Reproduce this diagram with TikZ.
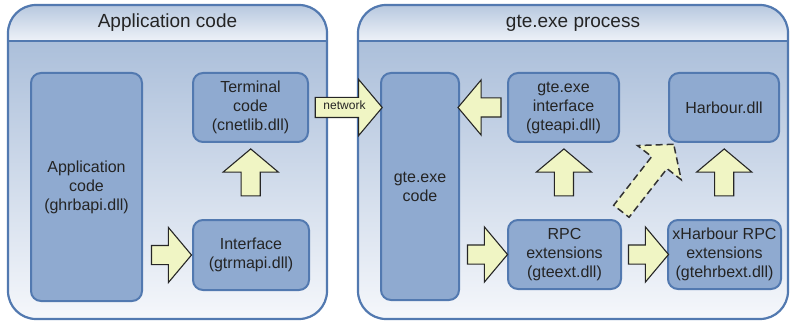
\documentclass[tikz,border=0pt]{standalone}
\usepackage{fontspec}
\setmainfont{Liberation Sans}
\usetikzlibrary{shapes.arrows}
\usetikzlibrary{calc}
\definecolor{rimblue}{HTML}{5279B0}
\definecolor{dllblue}{HTML}{8FAAD0}
\definecolor{paneltop}{HTML}{A2B8D6}
\definecolor{panelbot}{HTML}{F5F7FB}
\definecolor{captop}{HTML}{B7C8DF}
\definecolor{capbot}{HTML}{EEF2F8}
\definecolor{hintyellow}{HTML}{F0F5C4}
\definecolor{ink}{HTML}{242424}
\tikzset{dll/.style={draw=rimblue,line width=2pt,fill=dllblue,rounded corners=10pt,
           anchor=north west,align=center,text=ink,inner sep=2pt,
           font=\fontsize{16}{19}\selectfont},
         panel/.style={rounded corners=28pt},
         callarrow/.style={single arrow,draw=black!85,line width=1.1pt,fill=hintyellow,
           single arrow tip angle=100,single arrow head indent=0pt,
           single arrow head extend=18pt,minimum width=0pt,
           inner xsep=0pt,inner ysep=9pt,minimum height=#1},
         callarrow/.default=40pt,
         }

\begin{document}
\begin{tikzpicture}[x=1pt,y=-1pt]
\useasboundingbox (0,0) rectangle (791,323);
% the two process frames
\foreach \frm/\xa/\xb/\ttl in {appframe/8/327/Application code,gteframe/358/788/gte.exe process}{
  \shade[panel,top color=paneltop,bottom color=panelbot] (\xa,5) rectangle (\xb,319);
  \begin{scope}
    \clip[panel] (\xa,5) rectangle (\xb,319);
    \shade[top color=captop,bottom color=capbot] (\xa,5) rectangle (\xb,41);
  \end{scope}
  \draw[panel,draw=rimblue,line width=2.2pt] (\xa,5) rectangle (\xb,319);
  \draw[rimblue,line width=2.2pt] (\xa,41) -- (\xb,41);
  \node[text=ink,font=\fontsize{19}{22}\selectfont] (\frm) at ({(\xa+\xb)/2},23) {\ttl};
}

% modules
\node[dll,minimum width=111pt,minimum height=228pt] (ghrbapi) at (30,72) {Application\\code\\(ghrbapi.dll)};
\node[dll,minimum width=115pt,minimum height=69pt] (cnetlib) at (192,72) {Terminal\\code\\(cnetlib.dll)};
\node[dll,minimum width=116pt,minimum height=70pt] (gtrmapi) at (192,219) {Interface\\(gtrmapi.dll)};
\node[dll,minimum width=78pt,minimum height=227pt] (gtecode) at (380,72) {gte.exe\\code};
\node[dll,minimum width=111pt,minimum height=69pt] (gteapi) at (507,72) {gte.exe\\interface\\(gteapi.dll)};
\node[dll,minimum width=110pt,minimum height=69pt] (harbour) at (668,72) {Harbour.dll};
\node[dll,minimum width=113pt,minimum height=69pt] (gteext) at (507,219) {RPC\\extensions\\(gteext.dll)};
\node[dll,minimum width=113pt,minimum height=69pt] (gtehrbext) at (667,219) {xHarbour RPC\\extensions\\(gtehrbext.dll)};

% calls between modules
\node[callarrow] (toiface) at ($(ghrbapi.east |- gtrmapi.west)!0.5!(gtrmapi.west)$) {};
\node[callarrow=47pt,rotate=90] (toterm) at ($(gtrmapi.north)!0.56!(cnetlib.south)$) {};
\node[callarrow=67pt,inner ysep=5pt,text height=7pt,text depth=2pt,text=ink,
      font=\fontsize{12}{14}\selectfont] (network) at ($(cnetlib.east)!0.5!(cnetlib.east -| gtecode.west)$) {network};
\node[callarrow=43pt,rotate=180] (tocode) at ($(gtecode.east |- gteapi.west)!0.5!(gteapi.west)$) {};
\node[callarrow] (toext) at ($(gtecode.east |- gteext.west)!0.5!(gteext.west)$) {};
\node[callarrow] (tohrbext) at ($(gteext.east)!0.5!(gtehrbext.west)$) {};
\node[callarrow=47pt,rotate=90] (toapi) at ($(gteext.north)!0.56!(gteapi.south)$) {};
\node[callarrow=47pt,rotate=90] (toharbour) at ($(gtehrbext.north)!0.56!(harbour.south)$) {};
\node[callarrow=85pt,rotate=52,dash pattern=on 7pt off 4pt,line width=1.5pt,draw=black!80]
      (direct) at ($(gteext.north east)!0.5!(harbour.south west)$) {};
\end{tikzpicture}
\end{document}
